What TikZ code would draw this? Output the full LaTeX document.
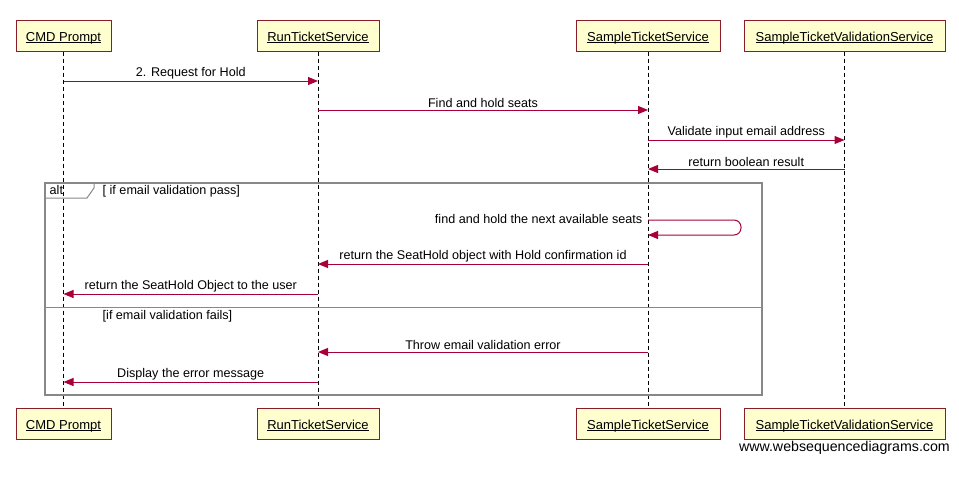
\documentclass[tikz,border=0pt]{standalone}
\usepackage{fontspec}
\setmainfont{Liberation Sans}
\usetikzlibrary{arrows.meta}
\definecolor{boxfill}{HTML}{FEFECE}
\definecolor{boxline}{HTML}{8B1C2C}
\definecolor{msg}{HTML}{A80036}
\definecolor{altgray}{HTML}{888888}
\newcommand{\myul}[1]{\setbox0\hbox{#1}\rlap{\rule[-1.6pt]{\wd0}{0.8pt}}\box0}
\tikzset{
  actor/.style={draw=boxline, fill=boxfill, line width=1pt, minimum height=31pt, inner sep=0pt, text height=11.5pt, text depth=0pt, font=\fontsize{13}{15}\selectfont},
  life/.style={dashed, dash pattern=on 4pt off 3pt, line width=1pt, black},
  msgline/.style={draw=msg, line width=1pt, -{Triangle[length=10pt,width=8pt]}},
  lbl/.style={font=\fontsize{12.6}{15}\selectfont, inner sep=1.5pt},
  altbox/.style={draw=altgray, line width=2pt},
}
\begin{document}
\begin{tikzpicture}[x=1pt,y=-1pt]
\useasboundingbox[fill=white] (0,0) rectangle (959,493);
% heads
\node[actor, minimum width=95pt] (cmdT) at (63.5,35.5) {\myul{CMD Prompt}};
\node[actor, minimum width=122pt] (runT) at (318,35.5) {\myul{RunTicketService}};
\node[actor, minimum width=144pt] (smpT) at (648,35.5) {\myul{SampleTicketService}};
\node[actor, minimum width=201pt] (valT) at (844.5,35.5) {\myul{SampleTicketValidationService}};
\node[actor, minimum width=95pt] (cmdB) at (63.5,423.5) {\myul{CMD Prompt}};
\node[actor, minimum width=122pt] (runB) at (318,423.5) {\myul{RunTicketService}};
\node[actor, minimum width=144pt] (smpB) at (648,423.5) {\myul{SampleTicketService}};
\node[actor, minimum width=201pt] (valB) at (844.5,423.5) {\myul{SampleTicketValidationService}};
% lifelines
\draw[life] (cmdT) -- (cmdB);
\draw[life] (runT) -- (runB);
\draw[life] (smpT) -- (smpB);
\draw[life] (valT) -- (valB);
% alt frame
\draw[altbox] (45,183) rectangle (762,395);
\draw[draw=altgray, line width=1pt] (45,183) -- (94,183) -- (94,188) -- (87,198) -- (45,198);
\node[lbl, anchor=base west] (altlbl) at (48,194) {alt};
\node[lbl, anchor=base west] (cond1) at (101,194) {[ if email validation pass]};
\draw[draw=altgray, line width=1pt] (45,307) -- (762,307);
\node[lbl, anchor=base west] (cond2) at (101,319.5) {[if email validation fails]};
% messages
\draw[msgline] (cmdT |- 0,81) -- node[lbl, above] {2. Request for Hold} (runT |- 0,81);
\draw[msgline] (runT |- 0,110) -- node[lbl, above] {Find and hold seats} (smpT |- 0,110);
\draw[msgline] (smpT |- 0,140) -- node[lbl, above] {Validate input email address} (valT |- 0,140);
\draw[msgline] (valT |- 0,169) -- node[lbl, above] {return boolean result} (smpT |- 0,169);
\coordinate (selfR) at (741,220);
\draw[msgline, rounded corners=7pt] (smpT |- 0,220) -- (selfR) -- (741,235) -- (smpT |- 0,235);
\node[lbl, anchor=base east] (selflbl) at (644,223.5) {find and hold the next available seats};
\draw[msgline] (smpT |- 0,264) -- node[lbl, above] {return the SeatHold object with Hold confirmation id} (runT |- 0,264);
\draw[msgline] (runT |- 0,294) -- node[lbl, above] {return the SeatHold Object to the user} (cmdT |- 0,294);
\draw[msgline] (smpT |- 0,352) -- node[lbl, above] {Throw email validation error} (runT |- 0,352);
\draw[msgline] (runT |- 0,382) -- node[lbl, above] {Display the error message} (cmdT |- 0,382);
% watermark
\node[font=\fontsize{14.2}{17}\selectfont, anchor=east, inner sep=0pt] (wm) at (950,448) {www.websequencediagrams.com};
\end{tikzpicture}
\end{document}
